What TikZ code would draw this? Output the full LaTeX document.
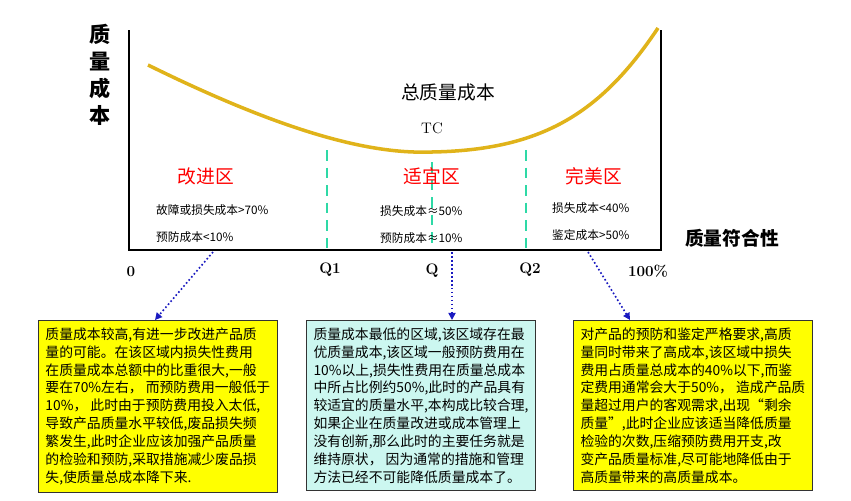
\documentclass[tikz,border=0pt]{standalone}
\usepackage{fontspec}
\newfontfamily\cjk{Noto Sans CJK SC}
\usetikzlibrary{arrows.meta}
\definecolor{curvec}{HTML}{E0B31A}
\definecolor{dashc}{HTML}{2ED9A6}
\definecolor{boxy}{HTML}{FFFF00}
\definecolor{boxc}{HTML}{CCF7F0}
\definecolor{arr}{HTML}{1A1AC0}
\begin{document}
\begin{tikzpicture}[x=0.03cm,y=-0.03cm,
  zone/.style={text=red,font=\cjk\fontsize{16}{18}\selectfont},
  small/.style={anchor=west,font=\cjk\fontsize{10}{12}\selectfont},
  ax/.style={font=\bfseries\fontsize{13}{15}\selectfont},
  box/.style={draw=black!80,line width=0.8pt,anchor=north west,align=left,inner sep=6pt,font=\cjk\fontsize{11.8}{15.3}\selectfont},
  pt/.style={draw=arr,line width=1.4pt,dotted,-{Triangle[length=6pt,width=6pt]}},
  dsh/.style={dashc,line width=2.4pt,dash pattern=on 9pt off 6pt}]
\useasboundingbox (0,0) rectangle (851,500);
\draw[line width=1.4pt] (129,30) -- (129,250) -- (661,250) -- (661,30);
\draw[curvec,line width=3pt] (148,65) .. controls (300,140) and (380,154) .. (432,152) .. controls (540,150) and (600,115) .. (658,28);
\draw[dsh] (327,150) -- (327,249);
\draw[dsh] (432,162) -- (432,249);
\draw[dsh] (526,150) -- (526,249);
\node[font=\cjk\bfseries\fontsize{18}{23}\selectfont,align=center] (yl) at (100,75) {质\\量\\成\\本};
\node[font=\cjk\fontsize{16}{18}\selectfont] (tot) at (448,92) {总质量成本};
\node[font=\fontsize{13}{15}\selectfont] (tc) at (432,128) {TC};
\node[zone] (z1) at (206,176) {改进区};
\node[zone] (z2) at (432,176) {适宜区};
\node[zone] (z3) at (594,176) {完美区};
\node[small] (a1) at (152,210) {故障或损失成本>70\%};
\node[small] (a2) at (152,237) {预防成本<10\%};
\node[small] (b1) at (376,211) {损失成本≈50\%};
\node[small] (b2) at (376,238) {预防成本≈10\%};
\node[small] (c1) at (548,208) {损失成本<40\%};
\node[small] (c2) at (548,235) {鉴定成本>50\%};
\node[ax] (x0) at (131,272) {0};
\node[ax] (xq1) at (330,270) {Q1};
\node[ax] (xq) at (432,271) {Q};
\node[ax] (xq2) at (530,270) {Q2};
\node[ax] (x100) at (648,271) {100\%};
\node[font=\cjk\bfseries\fontsize{16}{18}\selectfont] (xl) at (732,238) {质量符合性};
\node[box,fill=boxy] (B1) at (38,320) {质量成本较高,有进一步改进产品质\\量的可能。在该区域内损失性费用\\在质量成本总额中的比重很大,一般\\要在70\%左右， 而预防费用一般低于\\10\%， 此时由于预防费用投入太低,\\导致产品质量水平较低,废品损失频\\繁发生,此时企业应该加强产品质量\\的检验和预防,采取措施减少废品损\\失,使质量总成本降下来.};
\node[box,fill=boxc] (B2) at (306,320) {质量成本最低的区域,该区域存在最\\优质量成本,该区域一般预防费用在\\10\%以上,损失性费用在质量总成本\\中所占比例约50\%,此时的产品具有\\较适宜的质量水平,本构成比较合理,\\如果企业在质量改进或成本管理上\\没有创新,那么此时的主要任务就是\\维持原状， 因为通常的措施和管理\\方法已经不可能降低质量成本了。};
\node[box,fill=boxy] (B3) at (573,320) {对产品的预防和鉴定严格要求,高质\\量同时带来了高成本,该区域中损失\\费用占质量总成本的40\%以下,而鉴\\定费用通常会大于50\%， 造成产品质\\量超过用户的客观需求,出现“剩余\\质量”,此时企业应该适当降低质量\\检验的次数,压缩预防费用开支,改\\变产品质量标准,尽可能地降低由于\\高质量带来的高质量成本。};
\coordinate (s1) at (213,252);
\coordinate (s2) at (452,252);
\coordinate (s3) at (588,252);
\draw[pt] (s1) -- (B1.north -| 155,0);
\draw[pt] (s2) -- (B2.north -| 452,0);
\draw[pt] (s3) -- (B3.north -| 630,0);
\end{tikzpicture}
\end{document}
